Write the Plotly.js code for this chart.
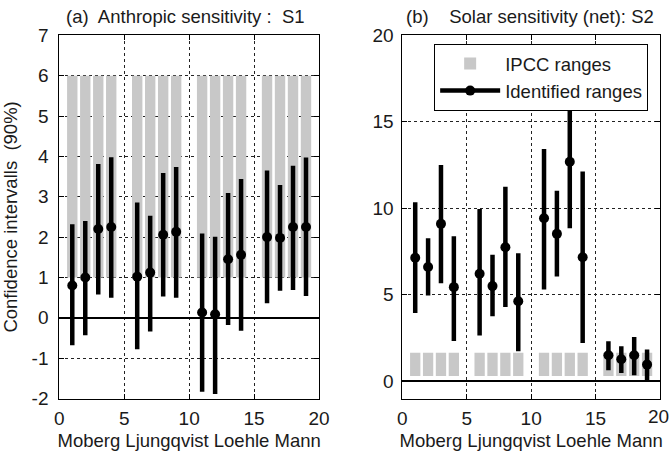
<!DOCTYPE html>
<html>
<head>
<meta charset="utf-8">
<script src="https://cdn.plot.ly/plotly-3.0.1.min.js"></script>
<style>html,body{margin:0;padding:0;background:#fff;}#chart{width:670px;height:454px;}</style>
</head>
<body>
<div id="chart"></div>
<script>
// ---- data ----
const xPos = [1,2,3,4, 6,7,8,9, 11,12,13,14, 16,17,18,19];
const groupLabels = ["Moberg","Ljungqvist","Loehle","Mann"];

// (a) Anthropic sensitivity S1
const s1Center = [0.80,1.00,2.20,2.25, 1.02,1.12,2.06,2.13, 0.13,0.09,1.45,1.56, 2.00,1.98,2.25,2.25];
const s1Low    = [-0.68,-0.43,0.58,0.50, -0.78,-0.34,0.53,0.50, -1.83,-1.89,-0.18,-0.32, 0.36,0.67,0.69,0.54];
const s1High   = [2.32,2.40,3.81,3.98, 2.86,2.53,3.59,3.74, 2.09,2.01,3.09,3.44, 3.65,3.29,3.77,3.97];
const s1IpccLow  = [1,1,1,1, 1,1,1,1, 1,1,1,1, 1,1,1,1];
const s1IpccHigh = [6,6,6,6, 6,6,6,6, 6,6,6,6, 6,6,6,6];

// (b) Solar sensitivity (net) S2
const s2Center = [7.14,6.60,9.10,5.44, 6.21,5.50,7.75,4.62, 9.42,8.52,12.69,7.17, 1.50,1.27,1.50,0.96];
const s2Low    = [3.94,4.96,5.67,2.33, 2.65,3.75,4.29,1.73, 5.31,6.06,8.85,2.21, 0.63,0.48,0.35,0.06];
const s2High   = [10.35,8.27,12.50,8.38, 9.96,7.31,11.25,7.40, 13.43,11.02,16.3,12.12, 2.31,2.02,2.56,1.83];
const s2IpccLow  = [0.3,0.3,0.3,0.3, 0.3,0.3,0.3,0.3, 0.3,0.3,0.3,0.3, 0.3,0.3,0.3,0.3];
const s2IpccHigh = [1.65,1.65,1.65,1.65, 1.65,1.65,1.65,1.65, 1.65,1.65,1.65,1.65, 1.65,1.65,1.65,1.65];

const yTicksA = [-2,-1,0,1,2,3,4,5,6,7];
const yTicksB = [0,5,10,15,20];
const xTicks = [0,5,10,15,20];

// ---- helpers building library inputs from the arrays ----
function segs(xs, lo, hi){
  const x=[], y=[];
  xs.forEach((v,i)=>{ x.push(v,v,null); y.push(lo[i],hi[i],null); });
  return {x, y};
}
function pts(xs, c){
  const x=[], y=[];
  xs.forEach((v,i)=>{ x.push(v,null); y.push(c[i],null); });
  return {x, y};
}
const diff = (a,b)=>a.map((v,i)=>v-b[i]);

const GRAY = '#c8c8c8';
const LW = 4.5;
const MS = 10;
const font = {family:'"Liberation Sans", Arial, sans-serif', size:18.5, color:'#1a1a1a'};
const tickFont = {family:'"Liberation Sans", Arial, sans-serif', size:19, color:'#1a1a1a'};

const sA = segs(xPos, s1Low, s1High), pA = pts(xPos, s1Center);
const sB = segs(xPos, s2Low, s2High), pB = pts(xPos, s2Center);

const traces = [
  {type:'bar', x:xPos, base:s1IpccLow, y:diff(s1IpccHigh,s1IpccLow), width:0.8,
   marker:{color:GRAY, line:{width:0}}, xaxis:'x', yaxis:'y', showlegend:false, hoverinfo:'skip'},
  {type:'bar', x:xPos, base:s2IpccLow, y:diff(s2IpccHigh,s2IpccLow), width:0.8,
   marker:{color:GRAY, line:{width:0}}, xaxis:'x2', yaxis:'y2', name:'IPCC ranges', showlegend:true},
  {type:'scatter', mode:'lines', x:sA.x, y:sA.y, line:{color:'#000', width:LW},
   xaxis:'x', yaxis:'y', showlegend:false, connectgaps:false},
  {type:'scatter', mode:'lines', x:sB.x, y:sB.y, line:{color:'#000', width:LW},
   xaxis:'x2', yaxis:'y2', showlegend:false, connectgaps:false},
  {type:'scatter', mode:'markers', x:pA.x, y:pA.y, marker:{color:'#000', size:MS},
   xaxis:'x', yaxis:'y', showlegend:false},
  {type:'scatter', mode:'lines+markers', x:pB.x, y:pB.y, marker:{color:'#000', size:MS},
   line:{color:'#000', width:LW}, connectgaps:false,
   xaxis:'x2', yaxis:'y2', name:'Identified ranges', showlegend:true}
];

const gridStyle = {showgrid:true, gridcolor:'#222', gridwidth:1, griddash:'dot',
  showline:true, linecolor:'#000', linewidth:1, mirror:'ticks',
  ticks:'inside', ticklen:5, tickcolor:'#000', tickfont:tickFont, fixedrange:true,
  ticklabeloverflow:'allow'};

const lastX = xTicks[xTicks.length-1];
// right panel: the last label is drawn as an annotation (Plotly hides it at the page edge)
const xTickTextB = xTicks.map(v => v === lastX ? '' : String(v));
const domX2 = [0.6005, 0.985];

const layout = {
  width:670, height:454,
  margin:{l:0,r:0,t:0,b:0},
  paper_bgcolor:'#fff', plot_bgcolor:'#fff',
  font:font,
  barmode:'overlay',
  showlegend:true,
  legend:{x:0.648, xanchor:'left', y:0.903, yanchor:'top', bgcolor:'#fff',
    bordercolor:'#000', borderwidth:1, font:font, itemwidth:60, tracegroupgap:0},
  xaxis:Object.assign({}, gridStyle, {domain:[0.0885,0.4761], range:[0,20], tickvals:xTicks,
    zeroline:false, ticklabelstandoff:3,
    title:{text:groupLabels.join(' '), font:font, standoff:5}}),
  yaxis:Object.assign({}, gridStyle, {domain:[0.1222,0.9222], range:[-2,7], tickvals:yTicksA,
    ticktext:yTicksA.map(v=>String(v)), zeroline:true, zerolinecolor:'#000', zerolinewidth:2,
    ticklabelstandoff:6,
    title:{text:'Confidence intervalls  (90%)', font:font, standoff:12}}),
  xaxis2:Object.assign({}, gridStyle, {domain:domX2, range:[0,20], tickvals:xTicks,
    ticktext:xTickTextB, zeroline:false, anchor:'y2', ticklabelstandoff:3,
    title:{text:groupLabels.join(' '), font:font, standoff:5}}),
  yaxis2:Object.assign({}, gridStyle, {domain:[0.1222,0.9222], range:[-1,20], tickvals:yTicksB,
    zeroline:true, zerolinecolor:'#000', zerolinewidth:2, anchor:'x2', ticklabelstandoff:4}),
  annotations:[
    {text:'(a)  Anthropic sensitivity :  S1', xref:'paper', yref:'paper', x:185/670, y:1-17/454,
     xanchor:'center', yanchor:'middle', showarrow:false, font:font},
    {text:'(b)    Solar sensitivity (net): S2', xref:'paper', yref:'paper', x:530/670, y:1-17/454,
     xanchor:'center', yanchor:'middle', showarrow:false, font:font},
    {text:String(lastX), xref:'paper', yref:'paper', x:domX2[1], y:1-416/454, xshift:-1,
     xanchor:'center', yanchor:'middle', showarrow:false, font:tickFont}
  ]
};

Plotly.newPlot('chart', traces, layout, {displayModeBar:false, staticPlot:true});
</script>
</body>
</html>
